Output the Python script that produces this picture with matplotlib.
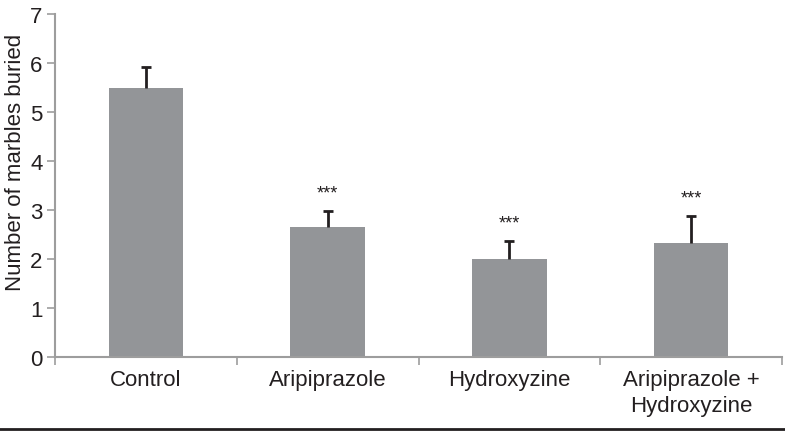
import matplotlib
matplotlib.use("Agg")
import matplotlib.pyplot as plt
import numpy as np

categories = ["Control", "Aripiprazole", "Hydroxyzine", "Aripiprazole +\nHydroxyzine"]
means = [5.5, 2.65, 2.0, 2.33]
errors = [0.42, 0.33, 0.37, 0.55]
stars = ["", "***", "***", "***"]

plt.rcParams['font.family'] = ['Liberation Sans', 'DejaVu Sans']

fig = plt.figure(figsize=(7.85, 4.35), dpi=100)
ax = fig.add_axes([55/785, 1 - 358/435, (782-55)/785, (358-15)/435])

x = np.arange(len(categories))
ax.bar(x, means, width=0.41, color="#939598", zorder=2)
_, caps, _ = ax.errorbar(x, means, yerr=[np.zeros(len(errors)), errors], fmt="none",
                         ecolor="#231f20", elinewidth=2, capsize=3.8, capthick=2, zorder=3)
caps[0].set_visible(False)
for xi, m, e, s in zip(x, means, errors, stars):
    if s:
        ax.text(xi, m + e + 0.2, s, ha="center", va="bottom", fontsize=13, color="#231f20")

ax.set_xlim(-0.5, len(categories) - 0.5)
ax.set_ylim(0, 7)
ax.set_yticks(range(0, 8))
ax.set_xticks(np.arange(-0.5, len(categories), 1.0))
ax.set_xticklabels([])
ax.set_xticks(x, minor=True)
ax.set_xticklabels(categories, minor=True, fontsize=16, color="#231f20", linespacing=1.3)
ax.tick_params(axis="x", which="minor", length=0, pad=9)
ax.tick_params(axis="x", which="major", length=6, color="#9d9d9d", width=1.2)
ax.tick_params(axis="y", length=6, color="#9d9d9d", width=1.2, labelsize=16, labelcolor="#231f20", pad=3)
for sp in ["top", "right"]:
    ax.spines[sp].set_visible(False)
for sp in ["left", "bottom"]:
    ax.spines[sp].set_color("#9d9d9d")
    ax.spines[sp].set_linewidth(1.5)
ax.set_ylabel("Number of marbles buried", fontsize=16, color="#231f20")
ax.yaxis.set_label_coords(-29/727, (358-162)/343)

fig.add_artist(plt.Line2D([0, 1], [1 - 430/435, 1 - 430/435], color="#231f20", linewidth=2, transform=fig.transFigure))

fig.savefig("out.png", dpi=100)
